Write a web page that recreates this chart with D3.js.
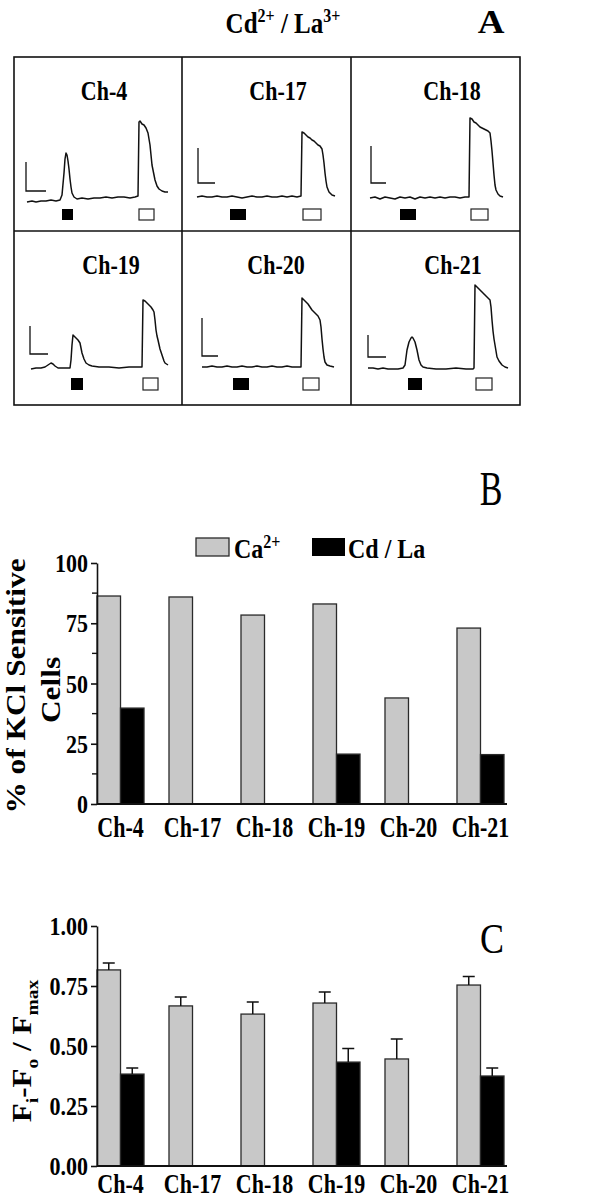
<!DOCTYPE html>
<html>
<head>
<meta charset="utf-8">
<script src="https://cdn.jsdelivr.net/npm/d3@7"></script>
<style>
  body { margin: 0; background: #fff; }
  svg { display: block; font-family: "Liberation Serif", "Times New Roman", serif; font-weight: bold; }
</style>
</head>
<body>
<svg id="fig" width="614" height="1199"></svg>
<script>
// ---- data ----
const channels = ["Ch-4", "Ch-17", "Ch-18", "Ch-19", "Ch-20", "Ch-21"];

// panel A traces: [time, signal] in arbitrary units read from the recordings
const traceCh4 = [[13,29],[18,30],[22,29],[27,30],[32,30],[37,31],[42,30],[46,31],[48,36],[50,58],[51,72],[52,78],[53,76],[54,70],[55,62],[56,52],[57,44],[58,38],[60,34],[63,32],[68,33],[74,32],[80,33],[86,33],[92,34],[98,33],[104,34],[110,34],[116,33],[121,34],[124,35],[125,109],[126,110],[128,107],[130,106],[132,103],[134,98],[135,92],[136,86],[137,76],[138,66],[139,61],[141,51],[143,45],[145,42],[148,40],[151,39],[154,39]];
const traceCh17 = [[15,34],[20,35],[25,34],[30,34],[35,35],[40,34],[45,34],[50,35],[55,34],[60,33],[65,34],[70,35],[75,34],[80,34],[85,35],[90,34],[95,34],[100,35],[105,34],[110,35],[115,34],[119,35],[120,99],[122,98],[124,96],[126,94],[128,93],[130,91],[132,90],[134,88],[136,86],[138,85],[140,82],[141,76],[142,68],[143,58],[144,50],[145,44],[147,39],[150,36],[153,35]];
const traceCh18 = [[19,33],[24,34],[29,32],[34,34],[39,33],[44,32],[49,34],[54,33],[59,34],[64,32],[69,34],[74,33],[79,34],[84,33],[89,34],[94,33],[99,34],[104,34],[109,33],[114,34],[118,34],[119,113],[121,112],[123,109],[125,108],[127,106],[129,104],[131,103],[133,102],[135,101],[137,100],[139,98],[140,90],[141,80],[142,68],[143,56],[144,46],[145,41],[147,37],[149,35],[152,34]];
const traceCh19 = [[17,36],[22,37],[27,37],[31,38],[34,40],[37,42],[39,41],[41,39],[44,37],[48,37],[52,37],[56,37],[57,45],[58,60],[59,70],[60,69],[62,67],[64,65],[66,62],[67,57],[68,52],[70,46],[72,42],[75,40],[78,39],[85,38],[95,38],[105,37],[115,38],[124,38],[128,38],[129,105],[131,104],[133,102],[135,100],[137,98],[139,95],[140,93],[141,85],[142,75],[143,69],[144,65],[146,56],[148,50],[150,44],[151,42],[154,40]];
const traceCh20 = [[20,38],[25,38],[30,39],[35,38],[40,38],[45,39],[50,38],[55,38],[60,39],[65,38],[70,38],[75,39],[80,38],[85,38],[90,39],[95,38],[100,38],[105,39],[110,38],[115,38],[119,38],[120,107],[122,105],[124,103],[126,101],[128,98],[130,95],[132,93],[134,91],[136,89],[138,85],[139,78],[140,66],[141,56],[142,48],[143,43],[145,40],[148,39],[152,38]];
const traceCh21 = [[17,37],[22,37],[27,36],[32,37],[37,36],[42,36],[47,36],[52,37],[54,40],[56,55],[58,63],[60,67],[61,68],[62,67],[64,63],[66,55],[67,50],[68,45],[70,40],[72,38],[76,37],[85,36],[95,36],[105,37],[115,36],[122,36],[123,37],[124,120],[126,118],[129,115],[132,112],[135,109],[137,107],[139,105],[140,98],[141,85],[142,74],[143,66],[144,60],[145,54],[146,48],[148,44],[151,40],[154,38],[157,37]];
const traces = [traceCh4, traceCh17, traceCh18, traceCh19, traceCh20, traceCh21];

// calibration bars: [time, signal bottom, signal top, time end]
const calBars = [[12,40,69,32],[16,48,83,33],[20,48,85,35],[16,51,79,34],[20,49,87,36],[17,48,70,35]];
// application periods: Cd/La (filled) and KCl (open), [start, end]
const cdLaPulse = [[48,59],[48,64],[49,65],[57,69],[51,67],[57,71]];
const kclPulse = [[125,140],[121,139],[120,137],[129,144],[121,137],[125,141]];
const pulseLevel = [[11,22],[15,27]];
const titlePos = [90, 96, 101, 97, 94, 102];

// panel B: % of KCl sensitive cells
const pctCa = [86.3, 85.9, 78.4, 83.0, 44.0, 73.0];
const pctCdLa = [39.8, null, null, 20.7, null, 20.5];
const pctTicks = [0, 25, 50, 75, 100];
const pctMinor = [12.5, 37.5, 62.5, 87.5];

// panel C: Fi-Fo / Fmax, mean and SEM
const ampCa = [0.817, 0.667, 0.633, 0.679, 0.446, 0.754];
const ampCaErr = [0.029, 0.037, 0.050, 0.046, 0.083, 0.036];
const ampCdLa = [0.383, null, null, 0.433, null, 0.375];
const ampCdLaErr = [0.025, null, null, 0.057, null, 0.033];
const ampTicks = [0, 0.25, 0.5, 0.75, 1.0];

const GRAY = "#c8c8c8";
const INK = "#111";
const SERIF = '"Liberation Serif", "Times New Roman", serif';

const svg = d3.select("#fig");

// text drawn with a vertical stretch (the figure is taller than wide)
function sText(g, x, y, sy, size, txt) {
  return g.append("text")
    .attr("transform", "translate(" + x + "," + y + ") scale(1," + sy + ")")
    .attr("font-size", size)
    .text(txt);
}

// ================= Panel A =================
const colX = [14, 182, 351, 520];
const rowY = [57, 231, 405];
const gA = svg.append("g");

sText(gA, 283, 33, 1.2, 25, "").attr("text-anchor", "middle")
  .call(t => {
    t.append("tspan").text("Cd");
    t.append("tspan").attr("font-size", 16).attr("dy", -9).text("2+");
    t.append("tspan").attr("dy", 9).text(" / La");
    t.append("tspan").attr("font-size", 16).attr("dy", -9).text("3+");
  });
sText(gA, 491, 33, 0.9, 37, "A").attr("text-anchor", "middle");

gA.append("rect")
  .attr("x", colX[0]).attr("y", rowY[0])
  .attr("width", colX[3] - colX[0]).attr("height", rowY[2] - rowY[0])
  .attr("fill", "none").attr("stroke", INK).attr("stroke-width", 1.6);
[colX[1], colX[2]].forEach(cx => {
  gA.append("line").attr("x1", cx).attr("x2", cx).attr("y1", rowY[0]).attr("y2", rowY[2])
    .attr("stroke", INK).attr("stroke-width", 1.6);
});
gA.append("line").attr("x1", colX[0]).attr("x2", colX[3]).attr("y1", rowY[1]).attr("y2", rowY[1])
  .attr("stroke", INK).attr("stroke-width", 1.6);

channels.forEach((name, i) => {
  const col = i % 3, row = Math.floor(i / 3);
  const x = d3.scaleLinear().domain([0, 170]).range([colX[col], colX[col] + 170]);
  const y = d3.scaleLinear().domain([0, 174]).range([rowY[row + 1], rowY[row + 1] - 174]);
  const g = gA.append("g");

  sText(g, x(titlePos[i]), y(131), 1.2, 22, name).attr("text-anchor", "middle");

  const line = d3.line().x(d => x(d[0])).y(d => y(d[1]));
  g.append("path").datum(traces[i])
    .attr("d", line)
    .attr("fill", "none").attr("stroke", INK).attr("stroke-width", 1.5)
    .attr("stroke-linejoin", "round");

  const c = calBars[i];
  g.append("path")
    .attr("d", "M" + x(c[0]) + "," + y(c[2]) + "V" + y(c[1]) + "H" + x(c[3]))
    .attr("fill", "none").attr("stroke", INK).attr("stroke-width", 1.3);

  const lv = pulseLevel[row];
  g.append("rect")
    .attr("x", x(cdLaPulse[i][0])).attr("width", x(cdLaPulse[i][1]) - x(cdLaPulse[i][0]))
    .attr("y", y(lv[1])).attr("height", y(lv[0]) - y(lv[1]))
    .attr("fill", "#000");
  g.append("rect")
    .attr("x", x(kclPulse[i][0])).attr("width", x(kclPulse[i][1]) - x(kclPulse[i][0]))
    .attr("y", y(lv[1])).attr("height", y(lv[0]) - y(lv[1]))
    .attr("fill", "#fff").attr("stroke", "#222").attr("stroke-width", 1.2);
});

// ================= shared bar chart helper =================
function barPanel(opts) {
  const g = svg.append("g");
  const xb = d3.scaleBand().domain(channels).range([opts.x0, 504]).paddingInner(0.347).paddingOuter(0);
  const y = d3.scaleLinear().domain(opts.domain).range([opts.yBottom, opts.yTop]);
  const bw = xb.bandwidth() / 2;

  // bars
  [[opts.ca, GRAY, 0], [opts.cd, "#000", 1]].forEach(([vals, fill, k]) => {
    g.selectAll(null).data(vals.map((v, j) => ({ v, j })).filter(d => d.v != null))
      .enter().append("rect")
      .attr("x", d => xb(channels[d.j]) + k * bw)
      .attr("width", bw)
      .attr("y", d => y(d.v))
      .attr("height", d => y(0) - y(d.v))
      .attr("fill", fill)
      .attr("stroke", "#2a2a2a").attr("stroke-width", 1.3);
  });

  // error bars
  if (opts.caErr) {
    [[opts.ca, opts.caErr, 0], [opts.cd, opts.cdErr, 1]].forEach(([vals, errs, k]) => {
      vals.forEach((v, j) => {
        if (v == null) return;
        const cx = xb(channels[j]) + k * bw + bw / 2;
        g.append("path")
          .attr("d", "M" + cx + "," + y(v) + "V" + y(v + errs[j]) + "M" + (cx - 6) + "," + y(v + errs[j]) + "H" + (cx + 6))
          .attr("fill", "none").attr("stroke", "#111").attr("stroke-width", 1.5);
      });
    });
  }

  // y axis
  const ya = g.append("g").attr("transform", "translate(" + opts.x0 + ",0)")
    .call(d3.axisLeft(y).tickValues(opts.ticks).tickSize(6).tickPadding(3).tickSizeOuter(0).tickFormat(opts.fmt))
    .attr("font-family", SERIF).attr("font-size", 22);
  ya.selectAll("text").attr("font-weight", "bold")
    .attr("fill", "#000").attr("dy", "0.34em").attr("transform", "scale(1,1.15)");
  ya.selectAll("line, path").attr("stroke", INK).attr("stroke-width", 1.6);
  if (opts.minor) {
    g.selectAll(null).data(opts.minor).enter().append("line")
      .attr("x1", opts.x0 - 5).attr("x2", opts.x0)
      .attr("y1", d => y(d)).attr("y2", d => y(d))
      .attr("stroke", INK).attr("stroke-width", 1.4);
  }

  // x axis
  const xa = g.append("g").attr("transform", "translate(0," + y(0) + ")")
    .call(d3.axisBottom(xb).tickSize(0).tickSizeOuter(0))
    .attr("font-family", SERIF).attr("font-size", 22);
  xa.select(".domain").attr("d", "M" + opts.x0 + ",0H507").attr("stroke", INK).attr("stroke-width", 1.8);
  xa.selectAll("text").attr("font-weight", "bold")
    .attr("fill", "#000").attr("y", 0).attr("dy", null)
    .attr("transform", "translate(0," + opts.labelOff + ") scale(1," + opts.labelScale + ")");
  return g;
}

// ================= Panel B =================
const gB = barPanel({
  x0: 97, domain: [0, 100], yBottom: 804, yTop: 563,
  ca: pctCa, cd: pctCdLa, ticks: pctTicks, minor: pctMinor, fmt: d3.format("d"),
  labelOff: 33, labelScale: 1.35
});
svg.append("text").attr("transform", "translate(491,505) scale(1,1.45)")
  .attr("font-size", 34).attr("font-weight", "normal").attr("text-anchor", "middle").text("B");

// legend
const legB = svg.append("g");
legB.append("rect").attr("x", 196).attr("y", 538).attr("width", 33).attr("height", 18)
  .attr("fill", GRAY).attr("stroke", "#2a2a2a").attr("stroke-width", 1.3);
sText(legB, 234, 558, 1.15, 24, "").call(t => {
  t.append("tspan").text("Ca");
  t.append("tspan").attr("font-size", 16).attr("dy", -9).text("2+");
});
legB.append("rect").attr("x", 312).attr("y", 538).attr("width", 33).attr("height", 18).attr("fill", "#000");
sText(legB, 348, 558, 1.15, 24, "Cd / La");

// y label B
svg.append("text").attr("transform", "translate(25,686) scale(1,1.12) rotate(-90)")
  .attr("font-size", 28).attr("text-anchor", "middle").text("% of KCl Sensitive");
svg.append("text").attr("transform", "translate(60,690) scale(1,1.12) rotate(-90)")
  .attr("font-size", 28).attr("text-anchor", "middle").text("Cells");

// ================= Panel C =================
const gC = barPanel({
  x0: 97, domain: [0, 1], yBottom: 1166, yTop: 926,
  ca: ampCa, cd: ampCdLa, caErr: ampCaErr, cdErr: ampCdLaErr,
  ticks: ampTicks, fmt: d3.format(".2f"), labelOff: 27, labelScale: 1.28
});
svg.append("text").attr("transform", "translate(492,953) scale(1,1.2)")
  .attr("font-size", 36).attr("font-weight", "normal").attr("text-anchor", "middle").text("C");

// y label C
const yl = svg.append("text").attr("transform", "translate(31,1051) scale(1,1.15) rotate(-90)")
  .attr("font-size", 27).attr("text-anchor", "middle");
yl.append("tspan").text("F");
yl.append("tspan").attr("font-size", 17).attr("dy", 7).text("i");
yl.append("tspan").attr("dy", -7).text("-F");
yl.append("tspan").attr("font-size", 17).attr("dy", 7).text("o");
yl.append("tspan").attr("dy", -7).text(" / F");
yl.append("tspan").attr("font-size", 17).attr("dy", 7).text("max");
</script>
</body>
</html>
